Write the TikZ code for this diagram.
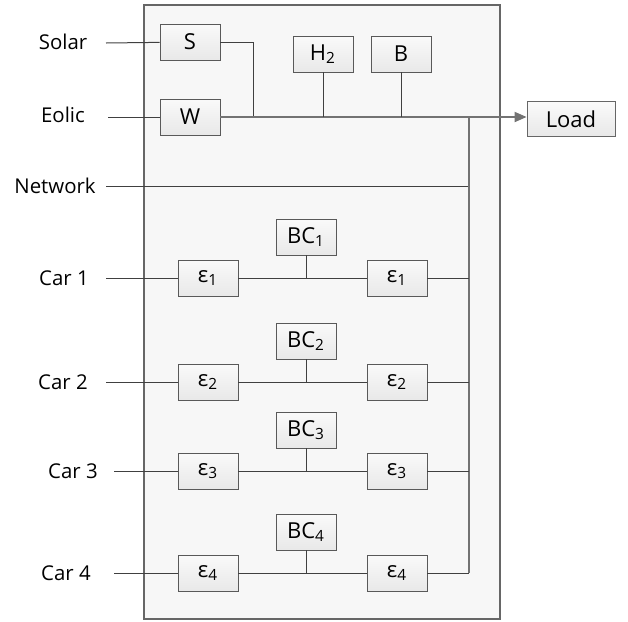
\documentclass[tikz,border=0pt]{standalone}
\usepackage{fontspec}
\setmainfont{Open Sans}
\usetikzlibrary{arrows.meta}

\begin{document}
\begin{tikzpicture}[x=0.5pt,y=-0.5pt,
  blk/.style={draw=black!65, top color=black!2, bottom color=black!9,
    minimum width=30pt, minimum height=18pt, inner sep=0pt,
    font=\fontsize{11}{13}\selectfont},
  lbl/.style={inner sep=0pt, font=\fontsize{10.2}{12}\selectfont},
  wire/.style={draw=black!75, line width=0.5pt},
  bus/.style={draw=black!55, line width=0.9pt}
]
  \useasboundingbox (0,0) rectangle (628,622);
  \draw[draw=black!60, fill=black!3, line width=0.6pt] (144,5) rectangle (500,619);

  % sources and storage
  \node[blk] (s) at (190,42) {S};
  \node[blk] (w) at (190,117) {W};
  \node[blk] (h2) at (323,54) {H\textsubscript{2}};
  \node[blk] (b) at (401,54) {B};
  \node[blk, fill=white, draw=black!60, minimum width=44pt, minimum height=17.5pt] (load) at (571,119) {Load\hspace{4pt}};

  \node[lbl] (solar) at (63,42) {Solar};
  \node[lbl] (eolic) at (63,115) {Eolic};
  \node[lbl] (network) at (55,186) {Network};
  \coordinate (insolar) at (106,43);
  \coordinate (ineolic) at (108,117);
  \coordinate (innet) at (106,186);
  \coordinate (sw) at (253,117);
  \coordinate (rb) at (469,117);

  \draw[wire] (insolar) -- (s);
  \draw[wire] (ineolic) -- (w);
  \draw[wire] (s.east) -| (sw);
  \draw[bus, -{Triangle[length=6pt,width=5pt]}] (w.east) -- (w.east -| load.west);
  \draw[wire] (h2) -- (h2 |- w.east);
  \draw[wire] (b) -- (b |- w.east);
  \draw[wire] (innet) -- (innet -| rb);
  \draw[bus] (rb) -- (469,573);

  % cars
  \foreach \i/\y/\cx/\lx in {1/278/64/106, 2/382/63/106, 3/471/73/114, 4/573/66/114} {
    \node[lbl] (car\i) at (\cx,\y) {Car \i};
    \coordinate (in\i) at (\lx,\y);
    \node[blk] (el\i) at (208,\y) {ε\textsubscript{\i}};
    \node[blk] (er\i) at (397,\y) {ε\textsubscript{\i}};
    \node[blk] (bc\i) at (306,{\y-41}) {BC\textsubscript{\i}};
    \draw[wire] (in\i) -- (el\i);
    \draw[wire] (el\i) -- (er\i);
    \draw[wire] (bc\i) -- (bc\i |- el\i);
    \draw[wire] (er\i) -- (er\i -| rb);
  }
\end{tikzpicture}
\end{document}
